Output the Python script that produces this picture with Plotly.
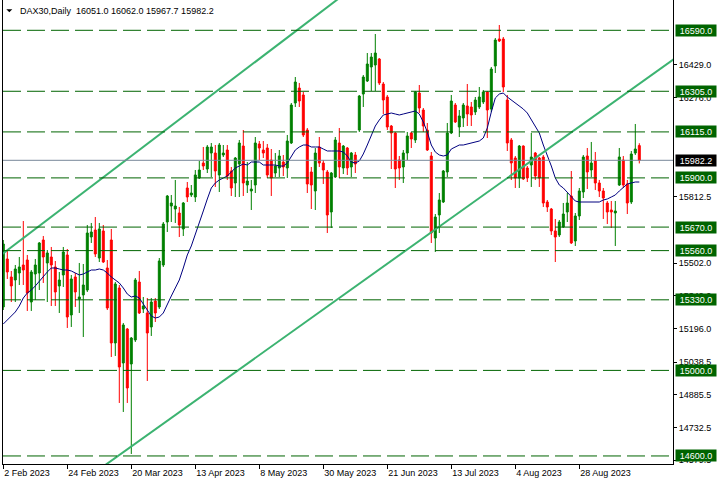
import plotly.graph_objects as go
import pandas as pd

SYMBOL = "DAX30,Daily"
START_DATE = "2023-02-02"
HOLIDAYS = ["2023-04-07", "2023-04-10", "2023-05-01"]

OPEN = [15296.5, 15520.9, 15436.7, 15422.7, 15455.4, 15492.8, 15516.2, 15319.8, 15450.7, 15455.4,
        15609.7, 15502.2, 15530.2, 15483.5, 15394.7, 15446.1, 15539.6, 15259.1, 15436.7, 15333.9,
        15352.6, 15375.9, 15623.7, 15656.4, 15525.5, 15651.8, 15478.8, 15609.7, 15128.2, 15385.3,
        15034.7, 15193.6, 15030.0, 15142.2, 15413.3, 15287.1, 15268.4, 15203.0, 15324.5, 15296.5,
        15492.8, 15693.8, 15768.6, 15754.6, 15735.9, 15661.1, 15852.8, 15820.1, 15810.7, 15899.5,
        15969.7, 15941.6, 16016.4, 16016.4, 15913.6, 16007.1, 16030.4, 15932.3, 15876.2, 15965.0,
        16049.1, 15866.8, 15838.8, 15866.8, 16058.5, 16030.4, 16039.8, 15983.7, 15922.9, 15946.3,
        15974.3, 15946.3, 16063.2, 16250.2, 16320.3, 16287.6, 16123.9, 15927.6, 15838.8, 16044.5,
        15969.7, 15927.6, 15740.6, 15904.2, 16063.2, 15946.3, 16039.8, 15951.0, 16007.1, 16123.9,
        16292.2, 16353.0, 16418.5, 16427.8, 16455.9, 16339.0, 16278.2, 16142.6, 16109.9, 15983.7,
        15951.0, 16016.4, 16109.9, 16077.2, 16296.9, 16217.4, 16123.9, 16002.4, 15619.0, 15726.6,
        15787.3, 15927.6, 16109.9, 16240.8, 16138.0, 16180.1, 16236.2, 16231.5, 16208.1, 16231.5,
        16254.9, 16301.6, 16222.1, 16423.2, 16549.4, 16549.4, 16264.2, 16077.2, 15993.0, 15899.5,
        16049.1, 15946.3, 15960.3, 16016.4, 15993.0, 15997.7, 15787.3, 15754.6, 15651.8, 15633.1,
        15670.5, 15740.6, 15815.4, 15605.0, 15721.9, 15834.1, 16002.4, 15936.9, 15979.0, 15876.2,
        15838.8, 15782.7, 15750.0, 15736.0, 15866.8, 15983.7, 15871.5, 15787.3, 16016.4, 16051.0]

HIGH = [15609.7, 15558.3, 15464.8, 15492.8, 15530.2, 15698.5, 15539.6, 15469.4, 15520.9, 15600.0,
        15628.4, 15562.9, 15577.0, 15511.5, 15460.1, 15577.0, 15567.6, 15446.1, 15455.4, 15502.2,
        15497.5, 15679.8, 15689.2, 15717.2, 15689.2, 15679.8, 15516.2, 15661.1, 15413.3, 15399.3,
        15221.7, 15198.3, 15156.0, 15432.0, 15464.8, 15343.2, 15338.5, 15338.5, 15338.5, 15525.5,
        15693.8, 15820.1, 15820.1, 15890.2, 15764.0, 15787.3, 15880.8, 15866.8, 15936.9, 15979.0,
        16044.5, 16053.8, 16063.2, 16053.8, 16063.2, 16053.8, 16053.8, 15951.0, 15997.7, 16077.2,
        16123.9, 15974.3, 15890.2, 16091.2, 16072.5, 16072.5, 16058.5, 16035.1, 16016.4, 16030.4,
        16007.1, 16100.6, 16250.2, 16371.7, 16343.7, 16301.6, 16133.3, 15951.0, 16039.8, 16091.2,
        15983.7, 15936.9, 15927.6, 16091.2, 16133.3, 16053.8, 16044.5, 16021.1, 16021.1, 16287.6,
        16381.1, 16483.9, 16483.9, 16572.7, 16460.5, 16348.3, 16287.6, 16147.3, 16114.6, 16002.4,
        16030.4, 16114.6, 16114.6, 16306.3, 16334.3, 16226.8, 16156.7, 16021.1, 15731.2, 15829.4,
        15936.9, 16156.7, 16287.6, 16250.2, 16217.4, 16250.2, 16339.0, 16254.9, 16278.2, 16325.0,
        16311.0, 16306.3, 16418.5, 16554.1, 16614.8, 16558.7, 16287.6, 16086.5, 16002.4, 16053.8,
        16052.0, 15955.6, 16109.9, 16021.1, 15997.7, 16007.1, 15796.7, 15759.3, 15707.9, 15703.2,
        15782.7, 15829.4, 15932.3, 15735.9, 15852.8, 16007.1, 16039.8, 16067.9, 16021.1, 15890.2,
        15852.8, 15792.0, 15792.0, 15792.0, 16039.8, 16002.4, 15890.2, 16025.8, 16152.0, 16062.0]

LOW = [15282.4, 15427.4, 15319.8, 15319.8, 15399.3, 15399.3, 15277.8, 15277.8, 15329.2, 15375.9,
       15408.7, 15319.8, 15301.1, 15301.1, 15268.4, 15390.0, 15198.3, 15203.0, 15296.5, 15268.4,
       15156.2, 15366.6, 15595.7, 15530.2, 15506.8, 15502.2, 15282.4, 15062.7, 15067.4, 14847.7,
       14805.6, 14847.7, 14609.2, 15132.8, 15263.7, 15268.4, 14950.5, 15160.9, 15226.3, 15287.1,
       15483.5, 15647.1, 15693.8, 15689.2, 15623.7, 15628.4, 15787.3, 15810.7, 15787.3, 15895.0,
       15936.9, 15922.9, 15904.2, 15857.5, 15834.1, 15997.7, 15890.2, 15815.4, 15810.7, 15810.7,
       15815.4, 15829.4, 15749.9, 15829.4, 15983.7, 15993.0, 15899.5, 15815.4, 15904.2, 15904.2,
       15908.9, 15899.5, 16058.5, 16231.5, 16231.5, 16091.2, 15829.4, 15754.6, 15749.9, 15951.0,
       15871.5, 15642.4, 15665.8, 15899.5, 15899.5, 15918.2, 15913.6, 15904.2, 15922.9, 16114.6,
       16231.5, 16348.3, 16306.3, 16306.3, 16334.3, 16198.7, 16123.9, 15941.6, 15852.8, 15890.2,
       15876.2, 15983.7, 16039.8, 16063.2, 16203.4, 16114.6, 16025.8, 15595.7, 15553.6, 15642.4,
       15782.7, 15904.2, 16105.0, 16156.7, 16091.2, 16138.0, 16142.6, 16142.6, 16194.1, 16222.1,
       16245.5, 16086.5, 16208.1, 16390.4, 16535.4, 16301.6, 16025.8, 15890.2, 15852.8, 15852.8,
       15890.2, 15880.8, 15857.5, 15890.2, 15857.5, 15764.0, 15740.6, 15633.1, 15506.8, 15623.7,
       15665.8, 15693.8, 15591.0, 15581.7, 15703.2, 15806.0, 15848.1, 15904.2, 15843.5, 15810.7,
       15707.9, 15684.5, 15665.8, 15581.7, 15862.2, 15852.8, 15731.2, 15778.0, 16007.1, 15967.7]

CLOSE = [15591.0, 15460.1, 15394.7, 15474.1, 15483.5, 15469.4, 15361.9, 15460.1, 15492.8, 15595.7,
         15530.2, 15548.9, 15492.8, 15366.6, 15422.7, 15553.6, 15249.7, 15427.4, 15366.6, 15343.2,
         15399.3, 15642.4, 15647.1, 15544.2, 15661.1, 15506.8, 15291.8, 15128.2, 15404.0, 15016.0,
         15212.3, 14917.8, 15151.5, 15422.7, 15268.4, 15301.1, 15174.9, 15319.8, 15268.4, 15511.5,
         15684.5, 15815.4, 15782.7, 15768.6, 15679.8, 15782.7, 15810.7, 15829.4, 15913.6, 15936.9,
         15955.6, 16044.5, 16044.5, 15932.3, 16053.8, 16016.4, 15908.9, 15852.8, 15993.0, 16063.2,
         15876.2, 15885.5, 15848.1, 16063.2, 16039.8, 16016.4, 15913.6, 15899.5, 15955.6, 16002.4,
         15951.0, 16072.5, 16240.8, 16348.3, 16259.5, 16100.6, 15871.5, 15866.8, 16016.4, 15969.7,
         15936.9, 15726.6, 15922.9, 16077.2, 15951.0, 16049.1, 15946.3, 16016.4, 15965.0, 16282.9,
         16371.7, 16432.5, 16465.2, 16483.9, 16343.7, 16264.2, 16138.0, 16109.9, 15941.6, 15946.3,
         16016.4, 16095.9, 16081.9, 16301.6, 16226.8, 16142.6, 16030.4, 15642.4, 15717.2, 15796.7,
         15932.3, 16109.9, 16259.5, 16161.3, 16189.4, 16240.8, 16198.7, 16194.1, 16264.2, 16278.2,
         16301.6, 16217.4, 16409.1, 16544.7, 16540.0, 16325.0, 16063.2, 15969.7, 15899.5, 16049.1,
         15894.9, 15899.5, 15997.7, 15908.9, 15899.5, 15782.7, 15764.0, 15651.8, 15623.7, 15693.8,
         15731.2, 15782.7, 15595.7, 15721.9, 15838.8, 15997.7, 15927.6, 15969.7, 15876.2, 15838.8,
         15806.0, 15740.6, 15740.6, 15745.3, 15997.7, 15866.8, 15782.7, 16011.8, 16035.1, 15982.2]

MOVING_AVG = [15217.0, 15235.7, 15259.1, 15273.1, 15301.1, 15338.5, 15361.9, 15375.9, 15394.7, 15418.0,
              15436.7, 15460.1, 15478.8, 15478.8, 15474.1, 15469.4, 15469.4, 15464.8, 15455.4, 15446.1,
              15450.7, 15460.1, 15469.4, 15469.4, 15474.1, 15469.4, 15455.4, 15436.7, 15422.7, 15408.7,
              15385.3, 15357.2, 15343.2, 15347.9, 15338.5, 15310.5, 15282.4, 15254.4, 15245.0, 15249.7,
              15268.4, 15310.5, 15347.9, 15385.3, 15422.7, 15478.8, 15539.6, 15581.7, 15633.1, 15684.5,
              15745.3, 15801.4, 15852.8, 15876.2, 15890.2, 15899.5, 15908.9, 15927.6, 15946.3, 15955.6,
              15965.0, 15960.3, 15974.3, 15974.3, 15974.3, 15960.3, 15960.3, 15960.3, 15960.3, 15955.6,
              15955.6, 15969.7, 16002.4, 16030.4, 16044.5, 16053.8, 16053.8, 16044.5, 16044.5, 16044.5,
              16035.1, 16025.8, 16025.8, 16025.8, 16025.8, 16021.1, 16002.4, 15974.3, 15969.7, 15979.0,
              16011.8, 16053.8, 16100.6, 16142.6, 16170.7, 16194.1, 16198.7, 16203.4, 16198.7, 16194.1,
              16198.7, 16203.4, 16208.1, 16212.8, 16198.7, 16161.3, 16114.6, 16053.8, 16021.1, 16007.1,
              16002.4, 16007.1, 16035.1, 16044.5, 16053.8, 16053.8, 16058.5, 16063.2, 16067.9, 16072.5,
              16086.5, 16133.3, 16208.1, 16273.6, 16292.2, 16296.9, 16278.2, 16264.2, 16250.2, 16236.2,
              16222.1, 16203.4, 16170.7, 16142.6, 16109.9, 16053.8, 16007.1, 15955.6, 15899.5, 15866.8,
              15852.8, 15834.1, 15810.7, 15792.0, 15787.3, 15787.3, 15787.3, 15787.3, 15787.3, 15787.3,
              15796.7, 15801.4, 15810.7, 15820.1, 15838.8, 15857.5, 15871.5, 15876.2, 15880.8, 15880.8]

LEVELS = [16590.0, 16305.0, 16115.0, 15900.0, 15670.0, 15560.0, 15330.0, 15000.0, 14600.0]

# channel trend lines: (bar index, price) anchor points
TREND_UPPER_BARS = [-1, 85]
TREND_UPPER_PRICES = [15533.0, 16755.0]
TREND_LOWER_BARS = [25, 168]
TREND_LOWER_PRICES = [14551.0, 16460.0]

PRICE_TICKS = [16429.0, 16276.0, 15812.5, 15502.0, 15349.0, 15196.0,
               15038.5, 14885.5, 14732.5, 14579.5]
DATE_TICK_STEP = 16

# ---------------------------------------------------------------------------
FONT = "Liberation Sans"
n = len(OPEN)
bars = list(range(n))
dates = pd.bdate_range(START_DATE, periods=n, freq="C", holidays=HOLIDAYS)
tick_bars = bars[::DATE_TICK_STEP]
tick_text = [f"{dates[i].day} {dates[i].strftime('%b %Y')}" for i in tick_bars]

W, H = 719, 485
ML, MR, MT, MB = 3, 46, 0, 21

fig = go.Figure()
fig.add_trace(go.Candlestick(
    x=bars, open=OPEN, high=HIGH, low=LOW, close=CLOSE,
    increasing=dict(line=dict(color="#008000", width=1), fillcolor="#008000"),
    decreasing=dict(line=dict(color="#FF0000", width=1), fillcolor="#FF0000"),
    whiskerwidth=0, hoverinfo="skip", showlegend=False,
))
fig.add_trace(go.Scatter(x=bars, y=MOVING_AVG, mode="lines",
                         line=dict(color="#00007F", width=1), hoverinfo="skip", showlegend=False))
for bx, py in ((TREND_UPPER_BARS, TREND_UPPER_PRICES), (TREND_LOWER_BARS, TREND_LOWER_PRICES)):
    fig.add_trace(go.Scatter(x=bx, y=py, mode="lines",
                             line=dict(color="#3CB371", width=2), hoverinfo="skip", showlegend=False))

shapes = []
for lv in LEVELS:
    shapes.append(dict(type="line", xref="paper", x0=0, x1=1, yref="y", y0=lv, y1=lv,
                       line=dict(color="#006400", width=1, dash="18px,6px"), layer="above"))
last_close = CLOSE[-1]
shapes.append(dict(type="line", xref="paper", x0=0, x1=1, yref="y", y0=last_close, y1=last_close,
                   line=dict(color="#778899", width=1), layer="above"))
# small menu triangle in the corner
shapes.append(dict(type="path", xref="paper", yref="paper",
                   path="M 0.0049 0.9800 L 0.0139 0.9800 L 0.0094 0.9735 Z",
                   fillcolor="black", line=dict(width=0)))

annotations = []
for lv in LEVELS:
    annotations.append(dict(xref="paper", x=1, xanchor="left", xshift=2, yref="y", y=lv,
                            text=f"{lv:.1f}", showarrow=False, bgcolor="#006400",
                            font=dict(family=FONT, size=9, color="white"),
                            width=40, height=11, borderpad=0, align="center"))
annotations.append(dict(xref="paper", x=1, xanchor="left", xshift=2, yref="y", y=last_close,
                        text=f"{last_close:.1f}", showarrow=False, bgcolor="black",
                        font=dict(family=FONT, size=9, color="white"),
                        width=40, height=11, borderpad=0, align="center"))
title = (f"{SYMBOL}\u00a0\u00a0{OPEN[-1]:.1f} {HIGH[-1]:.1f} {LOW[-1]:.1f} {CLOSE[-1]:.1f}")
annotations.append(dict(xref="paper", x=(18 - ML) / (W - ML - MR), xanchor="left",
                        yref="paper", y=1, yanchor="top", yshift=-4,
                        text=title, showarrow=False,
                        font=dict(family=FONT, size=9, color="black")))

y_top = 16731.7
y_bot = 14562.4

fig.update_layout(
    width=W, height=H, margin=dict(l=ML, r=MR, t=MT, b=MB, autoexpand=False),
    paper_bgcolor="white", plot_bgcolor="white",
    font=dict(family=FONT, size=9, color="black"),
    showlegend=False, shapes=shapes, annotations=annotations,
    xaxis=dict(range=[-0.075, 167.425], showgrid=False, zeroline=False,
               rangeslider=dict(visible=False), automargin=False,
               tickvals=tick_bars, ticktext=tick_text, ticks="outside", ticklen=4,
               tickcolor="black", ticklabelposition="outside right",
               tickfont=dict(family=FONT, size=9, color="black"),
               showline=True, linecolor="black", linewidth=1),
    yaxis=dict(range=[y_bot, y_top], side="right", showgrid=False, zeroline=False,
               automargin=False,
               tickvals=PRICE_TICKS, ticktext=[f"{v:.1f}" for v in PRICE_TICKS],
               ticks="outside", ticklen=3, tickcolor="black",
               tickfont=dict(family=FONT, size=9, color="black"),
               showline=True, linecolor="black", linewidth=1, mirror=True),
    hovermode=False,
)

fig.write_html("out.html", config={"displayModeBar": False},
               post_script="document.body.style.margin='0';document.body.style.overflow='hidden';")
